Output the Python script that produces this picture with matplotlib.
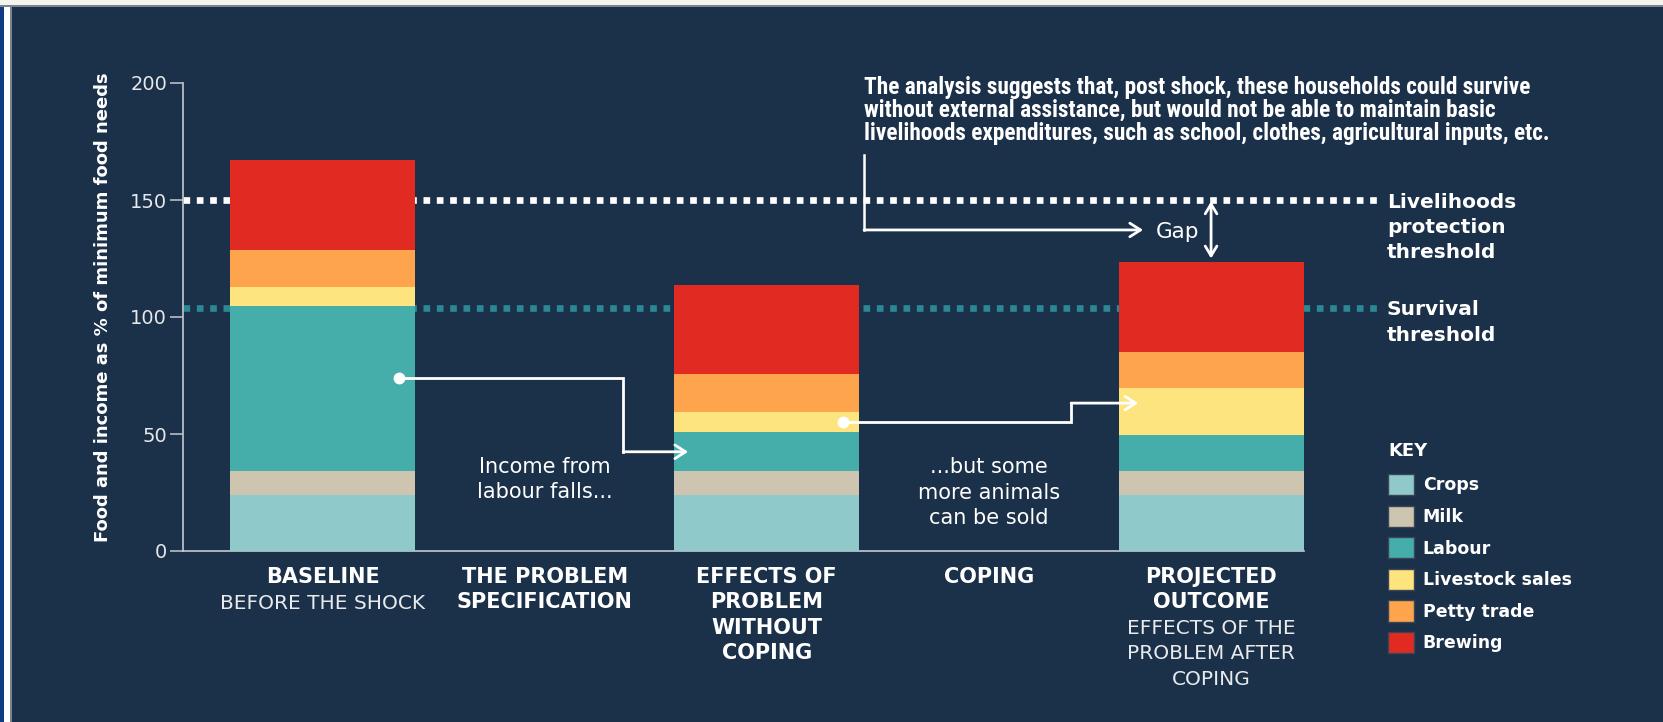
import numpy as np
import matplotlib.pyplot as plt
from matplotlib import font_manager
from matplotlib.patches import Patch, Rectangle
from matplotlib.transforms import blended_transform_factory

# ---- data ----------------------------------------------------------------
stage_titles = [["BASELINE"], ["THE PROBLEM", "SPECIFICATION"],
                ["EFFECTS OF", "PROBLEM", "WITHOUT", "COPING"], ["COPING"],
                ["PROJECTED", "OUTCOME"]]
stage_subtitles = [["BEFORE THE SHOCK"], [], [], [],
                   ["EFFECTS OF THE", "PROBLEM AFTER", "COPING"]]
bar_stage = [0, 2, 4]            # stages that carry a bar

sources = ["Crops", "Milk", "Labour", "Livestock sales", "Petty trade", "Brewing"]
crops = [24, 24, 24]
milk = [10, 10, 10]
labour = [70.5, 17, 15.5]
livestock = [8.5, 8.5, 20]
petty_trade = [15.5, 16, 15.5]
brewing = [38.5, 38, 38.5]

livelihoods_threshold = 150
survival_threshold = 104
yticks = [0, 50, 100, 150, 200]

# ---- style ---------------------------------------------------------------
W, H = 1663, 722
BG = "#1b3049"
COLORS = ["#8fc9c9", "#cdc5b0", "#45aeab", "#fde47f", "#fea44c", "#e12b22"]
SURV = "#2b8894"
AXC = "#c5c9cf"
BAR_W = 0.833


def pick(*names):
    avail = {f.name for f in font_manager.fontManager.ttflist}
    for n in names:
        if n in avail:
            return n
    return "DejaVu Sans"


NARROW = pick("Liberation Sans Narrow", "Roboto Condensed", "Roboto")
plt.rcParams["font.family"] = ["DejaVu Sans"]

fig = plt.figure(figsize=(W / 100, H / 100), dpi=100, facecolor=BG)
ax = fig.add_axes([183 / W, (H - 551) / H, (1377 - 183) / W, (551 - 83) / H])
ax.set_facecolor("none")
ax.set_xlim(-0.628, 4.747)
ax.set_ylim(0, 200)

# page frame strips (scanned page edge)
for x0, w, c in [(0, 4, "#0f3c85"), (4, 6, "white"), (10, 1.5, "#7d838c")]:
    fig.add_artist(Rectangle((x0 / W, 0), w / W, 1, transform=fig.transFigure,
                             color=c, lw=0, zorder=-5))
fig.add_artist(Rectangle((0, 1 - 5 / H), 1, 5 / H, transform=fig.transFigure,
                         color="#f4f4ef", lw=0, zorder=-5))
fig.add_artist(Rectangle((0, 1 - 7 / H), 1, 2 / H, transform=fig.transFigure,
                         color="#7d838c", lw=0, zorder=-5))

# ---- bars ----------------------------------------------------------------
series = [crops, milk, labour, livestock, petty_trade, brewing]
bottom = np.zeros(len(bar_stage))
for vals, col, name in zip(series, COLORS, sources):
    ax.bar(bar_stage, vals, BAR_W, bottom=bottom, color=col, label=name,
           edgecolor="none", linewidth=0, zorder=3)
    bottom += np.array(vals)
totals = bottom

# thresholds (behind bars)
ax.axhline(livelihoods_threshold, color="white", lw=4.8, ls=(0, (1, 1)), zorder=1)
ax.axhline(survival_threshold, color=SURV, lw=4.8, ls=(0, (1, 1)), zorder=1)


def stack(lines, x, y, line_px, start_px=0, xycoords="data", dx_px=0, **kw):
    for i, line in enumerate(lines):
        ax.annotate(line, (x, y), xycoords=xycoords,
                    xytext=(dx_px * 0.72, -(start_px + i * line_px) * 0.72),
                    textcoords="offset points", va="center_baseline",
                    annotation_clip=False, **kw)


right_tr = blended_transform_factory(ax.transAxes, ax.transData)
stack(["Livelihoods", "protection", "threshold"], 1, livelihoods_threshold, 25.5,
      xycoords=right_tr, dx_px=10, ha="left", color="white",
      fontsize=14.5, fontweight="bold")
stack(["Survival", "threshold"], 1, survival_threshold, 25.5,
      xycoords=right_tr, dx_px=10, ha="left", color="white",
      fontsize=14.5, fontweight="bold")

# ---- axes ----------------------------------------------------------------
for s in ["top", "right"]:
    ax.spines[s].set_visible(False)
ax.spines["left"].set_color(AXC)
ax.spines["bottom"].set_color(AXC)
ax.spines["left"].set_linewidth(1.2)
ax.spines["bottom"].set_linewidth(1.2)
ax.spines["bottom"].set_bounds(ax.get_xlim()[0], bar_stage[-1] + BAR_W / 2)
ax.set_xticks([])
ax.set_yticks(yticks)
ax.tick_params(axis="y", colors=AXC, length=9.4, width=1.1, labelsize=14,
               labelcolor="#e6e8eb", pad=2)
ax.set_ylabel("Food and income as % of minimum food needs", fontsize=13,
              fontweight="bold", color="white", va="center")
ax.yaxis.set_label_coords(-0.067, 0.52)

# stage labels under the axis
bot_tr = blended_transform_factory(ax.transData, ax.transAxes)
for i, (title, sub) in enumerate(zip(stage_titles, stage_subtitles)):
    stack(title, i, 0, 25.3, start_px=24, xycoords=bot_tr, ha="center",
          color="white", fontsize=15, fontweight="bold")
    stack(sub, i, 0, 25.3, start_px=24 + 25.3 * len(title) + 1, xycoords=bot_tr,
          ha="center", color="#e9eaec", fontsize=14.5)

# ---- annotations ---------------------------------------------------------
ARW = dict(arrowstyle="->,head_length=0.55,head_width=0.35", color="white",
           lw=2, mutation_scale=14, shrinkA=0, shrinkB=0)


def elbow(x0, y0, xm, y1, tip):
    ax.plot([x0, xm, xm], [y0, y0, y1], color="white", lw=2, zorder=5,
            solid_joinstyle="miter")
    ax.annotate("", xy=(tip, y1), xytext=(xm, y1), arrowprops=ARW, zorder=5)
    ax.plot(x0, y0, "o", color="white", ms=7.5, zorder=6)


elbow(0.343, 74.1, 1.354, 42.4, 1.646)
elbow(2.344, 55.0, 3.37, 63.2, 3.672)

stack(["Income from", "labour falls..."], 1, 36.8, 25.5, ha="center",
      color="white", fontsize=15)
stack(["...but some", "more animals", "can be sold"], 3, 36.8, 25.8,
      ha="center", color="white", fontsize=15)

# gap callout
ax.plot([2.438, 2.438], [169.2, 137.2], color="white", lw=1.8, zorder=5,
        solid_joinstyle="miter")
ax.annotate("", xy=(3.694, 137.2), xytext=(2.438, 137.2), arrowprops=ARW, zorder=5)
ax.text(3.75, 137.2, "Gap", color="white", fontsize=15.5,
        va="center_baseline", ha="left")
ax.annotate("", xy=(bar_stage[-1], livelihoods_threshold - 0.6),
            xytext=(bar_stage[-1], totals[-1] + 1.5),
            arrowprops=dict(ARW, arrowstyle="<->,head_length=0.5,head_width=0.3"))

note = ["The analysis suggests that, post shock, these households could survive",
        "without external assistance, but would not be able to maintain basic",
        "livelihoods expenditures, such as school, clothes, agricultural inputs, etc."]
# fit narrow font so the longest line spans the measured width
probe = fig.text(0, 0, note[2], family=NARROW, fontweight="bold", fontsize=12)
w = probe.get_window_extent(fig.canvas.get_renderer()).width
probe.remove()
stack(note, 2.438, 199.1, 22.8, ha="left", color="white", family=NARROW,
      fontweight="bold", fontsize=12 * 690 / w)

# ---- key -----------------------------------------------------------------
fig.text(1388 / W, 1 - 449 / H, "KEY", color="white", fontsize=13,
         fontweight="bold", ha="left", va="center_baseline")
handles = [Patch(facecolor=c, edgecolor="#3a4656", lw=1) for c in COLORS]
leg = fig.legend(handles, sources, loc="upper left",
                 bbox_to_anchor=(1388 / W, 1 - 474 / H), frameon=False,
                 fontsize=12.5, handlelength=1.5, handleheight=1.5,
                 labelspacing=0.6, handletextpad=0.5, borderpad=0,
                 borderaxespad=0, labelcolor="white",
                 prop={"weight": "bold", "size": 12.5})

fig.savefig("out.png", dpi=100, facecolor=BG)
